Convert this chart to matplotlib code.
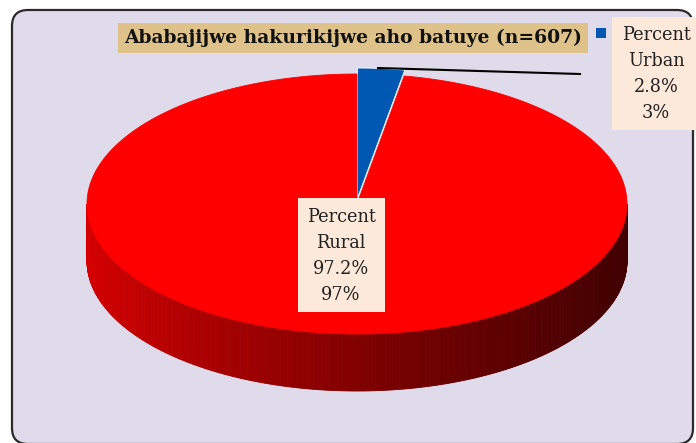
import numpy as np
import matplotlib
matplotlib.use("Agg")
import matplotlib.pyplot as plt
from matplotlib.patches import Polygon, Rectangle, FancyBboxPatch

# data
title = "Ababajijwe hakurikijwe aho batuye (n=607)"
categories = ["Percent Urban", "Percent Rural"]
values = [2.8, 97.2]
rounded = ["3%", "97%"]
colors = ["#0058B2", "#FF0000"]

fig = plt.figure(figsize=(6.96, 4.43), dpi=100)
ax = fig.add_axes([0, 0, 1, 1])
ax.set_xlim(0, 696)
ax.set_ylim(443, 0)
ax.axis("off")

# chart area
ax.add_patch(FancyBboxPatch((12, 10), 681, 434, boxstyle="round,pad=0,rounding_size=16",
                            fc="#E0DBEA", ec="#2a2a2a", lw=1.6))

# pie geometry (pixels)
cx, cy, rx, ry, depth = 357, 204, 270, 130, 57


def pt(th, r_off=(0, 0)):
    # th in degrees, clockwise from 12 o'clock
    t = np.radians(th)
    return cx + r_off[0] + rx * np.sin(t), cy + r_off[1] - ry * np.cos(t)


# side wall (front half), shaded left -> right
th = np.linspace(90, 270, 361)
for a, b in zip(th[:-1], th[1:]):
    x1, y1 = pt(a)
    x2, y2 = pt(b)
    f = ((x1 + x2) / 2 - (cx - rx)) / (2 * rx)
    f = np.clip(f, 0, 1)
    red = (215 - 150 * f ** 0.8) / 255
    ax.add_patch(Polygon([(x1, y1), (x2, y2), (x2, y2 + depth), (x1, y1 + depth)],
                         closed=True, fc=(red, 0, 0), ec=(red, 0, 0), lw=0.6))

# top face wedges
start = 0
for i, v in enumerate(values):
    span = v / sum(values) * 360
    off = (0, 0)
    if i == 0:
        mid = np.radians(start + span / 2)
        off = (6 * np.sin(mid), -6 * np.cos(mid))
    angs = np.linspace(start, start + span, max(int(span * 2), 4))
    pts = [(cx + off[0], cy + off[1])] + [pt(a, off) for a in angs]
    ax.add_patch(Polygon(pts, closed=True, fc=colors[i], ec="white" if i == 0 else colors[i], lw=0.6))
    start += span

# leader line from urban slice to its label
ax.plot([378, 580], [68, 74], color="black", lw=1.5)

# title
ax.text(353, 38, title, ha="center", va="center", fontsize=13.5, fontweight="bold",
        family="DejaVu Serif", color="#111111",
        bbox=dict(boxstyle="square,pad=0.3", fc="#DEC28A", ec="none"))

# legend marker (partly hidden)
ax.add_patch(Rectangle((596, 28), 10, 10, fc=colors[0], ec="none"))

# data labels
label_boxes = [(612, 17, 90, 113, 656, 35), (298, 198, 87, 114, 341, 217)]
for i, (bx, by, bw, bh, tx, ty) in enumerate(label_boxes):
    ax.add_patch(Rectangle((bx, by), bw, bh, fc="#FDE9D9", ec="none"))
    word1, word2 = categories[i].split()
    lines = [word1, word2, f"{values[i]:.1f}%", rounded[i]]
    for j, s in enumerate(lines):
        ax.text(tx, ty + 26 * j, s, ha="center", va="center", fontsize=12.8,
                family="DejaVu Serif", color="#222222")

fig.savefig("out.png", dpi=100)
